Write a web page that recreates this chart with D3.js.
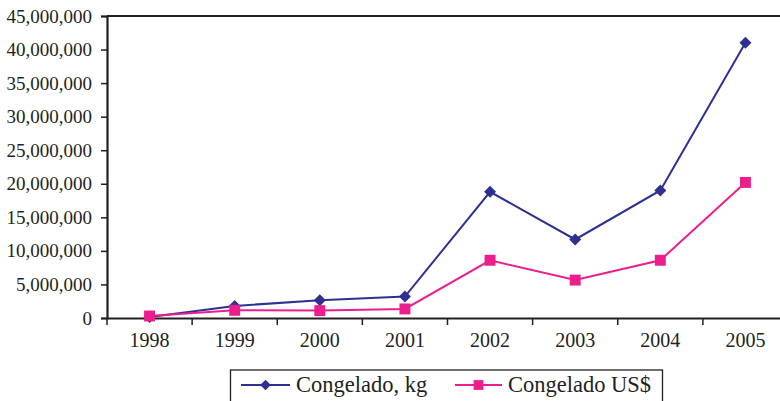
<!DOCTYPE html>
<html>
<head>
<meta charset="utf-8">
<script src="https://cdn.jsdelivr.net/npm/d3@7"></script>
<style>
  html, body { margin: 0; padding: 0; background: #fff; }
  svg { display: block; }
</style>
</head>
<body>
<svg id="chart" width="780" height="401"></svg>
<script>
// Frozen shrimp exports, 1998–2005
const years = ["1998", "1999", "2000", "2001", "2002", "2003", "2004", "2005"];
const kgValues  = [150000, 1800000, 2650000, 3200000, 18800000, 11700000, 19000000, 41000000];
const usdValues = [300000, 1150000, 1100000, 1350000, 8600000, 5650000, 8600000, 20200000];
const yTicks = [0, 5000000, 10000000, 15000000, 20000000, 25000000, 30000000, 35000000, 40000000, 45000000];
const seriesNames = ["Congelado, kg", "Congelado US$"];

const FONT = '"Liberation Serif", "Times New Roman", serif';
const svg = d3.select("#chart");
const plot = { left: 107, right: 788, top: 16, bottom: 318 };
const axisColor = "#231f20";
const colors = ["#2e3192", "#ec1e8e"];

const x = d3.scaleBand().domain(years).range([plot.left, plot.right]);
const y = d3.scaleLinear().domain([0, 45000000]).range([plot.bottom, plot.top]);

// square-on-its-corner marker
const diamond = {
  draw(ctx, size) {
    const r = Math.sqrt(size / 2);
    ctx.moveTo(0, -r); ctx.lineTo(r, 0); ctx.lineTo(0, r); ctx.lineTo(-r, 0); ctx.closePath();
  }
};

// top frame line
svg.append("line")
  .attr("x1", plot.left).attr("x2", plot.right)
  .attr("y1", plot.top).attr("y2", plot.top)
  .attr("stroke", axisColor).attr("stroke-width", 2);

// y axis
const yAxis = svg.append("g")
  .attr("transform", `translate(${plot.left},0)`)
  .call(d3.axisLeft(y).tickValues(yTicks).tickSize(6).tickPadding(9)
    .tickFormat(d3.format(",")));
yAxis.select(".domain").attr("stroke", axisColor).attr("stroke-width", 2.2);
yAxis.selectAll(".tick line").attr("stroke", axisColor).attr("stroke-width", 1.5);
yAxis.selectAll(".tick text")
  .style("font-family", FONT).style("font-size", "19px").attr("fill", axisColor);

// x axis with ticks between categories
const xAxis = svg.append("g")
  .attr("transform", `translate(0,${plot.bottom})`)
  .call(d3.axisBottom(x).tickSize(0).tickPadding(15));
xAxis.select(".domain").attr("stroke", axisColor).attr("stroke-width", 2);
xAxis.selectAll(".tick text")
  .style("font-family", FONT).style("font-size", "20px").attr("fill", axisColor);
xAxis.selectAll(".sep")
  .data(years.map(yr => x(yr)).concat([x(years[years.length - 1]) + x.bandwidth()]))
  .join("line").attr("class", "sep")
  .attr("x1", d => d).attr("x2", d => d)
  .attr("y1", 0).attr("y2", 7)
  .attr("stroke", axisColor).attr("stroke-width", 1.5);

const cx = d => x(d) + x.bandwidth() / 2;
const line = d3.line().x(d => cx(d.year)).y(d => y(d.value));

const series = [
  { name: seriesNames[0], values: kgValues, symbol: diamond, size: 72 },
  { name: seriesNames[1], values: usdValues, symbol: d3.symbolSquare, size: 120 }
];

series.forEach((s, i) => {
  const pts = years.map((yr, j) => ({ year: yr, value: s.values[j] }));
  svg.append("path").datum(pts)
    .attr("d", line).attr("fill", "none")
    .attr("stroke", colors[i]).attr("stroke-width", 2);
  svg.append("g").selectAll("path").data(pts).join("path")
    .attr("d", d3.symbol().type(s.symbol).size(s.size))
    .attr("transform", d => `translate(${cx(d.year)},${y(d.value)})`)
    .attr("fill", colors[i]);
});

// legend
const legend = svg.append("g");
legend.append("rect")
  .attr("x", 230.5).attr("y", 370).attr("width", 432).attr("height", 40)
  .attr("fill", "none").attr("stroke", axisColor).attr("stroke-width", 1.3);
const legendItems = [
  { x1: 241, x2: 290, tx: 296 },
  { x1: 455, x2: 502, tx: 508 }
];
legendItems.forEach((li, i) => {
  const ly = 385;
  legend.append("line")
    .attr("x1", li.x1).attr("x2", li.x2).attr("y1", ly).attr("y2", ly)
    .attr("stroke", colors[i]).attr("stroke-width", 2);
  legend.append("path")
    .attr("d", d3.symbol().type(series[i].symbol).size(series[i].size * 0.8))
    .attr("transform", `translate(${(li.x1 + li.x2) / 2},${ly})`)
    .attr("fill", colors[i]);
  legend.append("text")
    .attr("x", li.tx).attr("y", ly + 7)
    .style("font-family", FONT).style("font-size", "22.5px")
    .attr("fill", axisColor)
    .text(series[i].name);
});
</script>
</body>
</html>
